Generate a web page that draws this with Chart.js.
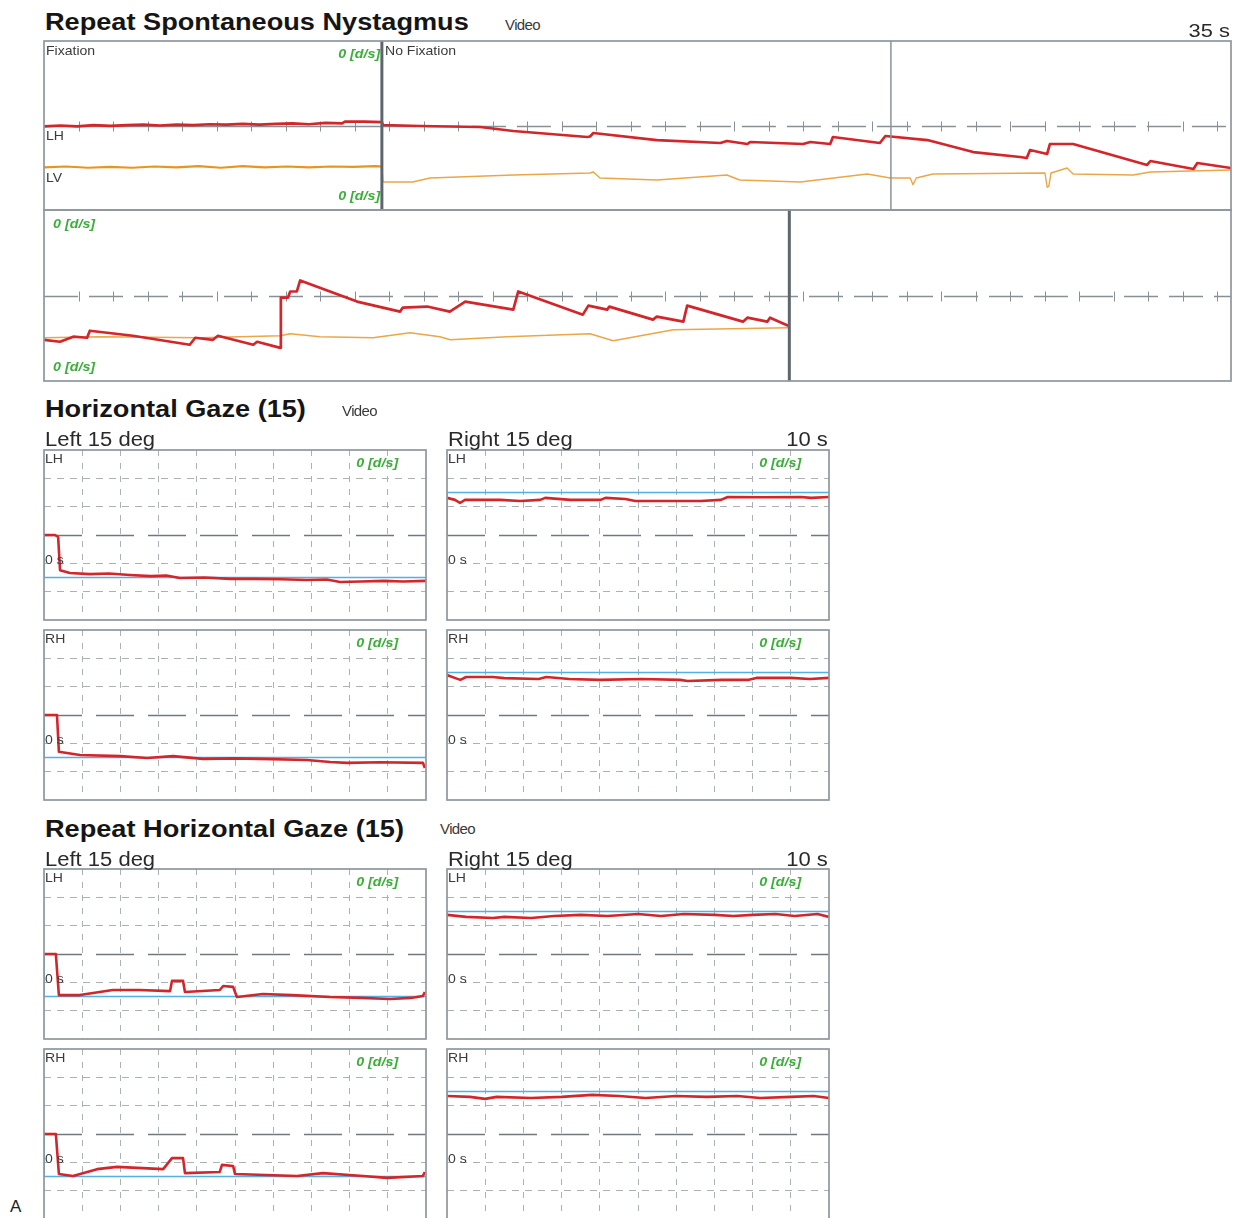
<!DOCTYPE html>
<html lang="en">
<head>
<meta charset="utf-8">
<title>Repeat Spontaneous Nystagmus / Horizontal Gaze</title>
<script src="https://cdn.jsdelivr.net/npm/chart.js@4.4.1/dist/chart.umd.min.js"></script>
<style>
  html,body{margin:0;padding:0;background:#fff;}
  body{position:relative;width:1239px;height:1218px;overflow:hidden;font-family:"Liberation Sans",Arial,Helvetica,sans-serif;color:#1d1d1d;}
  canvas{position:absolute;}
  .txt{position:absolute;white-space:nowrap;line-height:1;transform-origin:0 0;z-index:2;}
  .r{transform-origin:100% 0;}
  .ttl{font-weight:bold;font-size:23px;transform:scaleX(1.18);color:#151515;}
  .sub{font-size:20px;transform:scaleX(1.1);color:#2a2a2a;}
  .dur{font-size:19px;transform:scaleX(1.15);color:#2a2a2a;}
  .vid{font-size:15px;color:#3a3a3a;letter-spacing:-0.6px;}
  .lab{font-size:13px;transform:scaleX(1.08);color:#3b3b3b;}
  .vel{font-size:13px;font-weight:bold;font-style:italic;color:#3cae3a;transform:scaleX(1.1);}
  .big{font-size:17px;color:#222;}
</style>
</head>
<body>
<div id="plots"></div>

<div class="txt ttl" style="left:45px;top:11px">Repeat Spontaneous Nystagmus</div>
<div class="txt vid" style="left:505px;top:17px">Video</div>
<div class="txt dur r" style="right:9px;top:21px">35 s</div>
<div class="txt lab" style="left:46px;top:44px">Fixation</div>
<div class="txt lab" style="left:385px;top:44px">No Fixation</div>
<div class="txt lab" style="left:46px;top:129px">LH</div>
<div class="txt lab" style="left:46px;top:171px">LV</div>
<div class="txt vel r" style="right:859px;top:47px">0 [d/s]</div>
<div class="txt vel r" style="right:859px;top:189px">0 [d/s]</div>
<div class="txt vel" style="left:53px;top:217px">0 [d/s]</div>
<div class="txt vel" style="left:53px;top:360px">0 [d/s]</div>

<div class="txt ttl" style="left:45px;top:398px">Horizontal Gaze (15)</div>
<div class="txt vid" style="left:342px;top:403px">Video</div>
<div class="txt sub" style="left:45px;top:429px">Left 15 deg</div>
<div class="txt sub" style="left:448px;top:429px">Right 15 deg</div>
<div class="txt sub r" style="right:411px;top:429px">10 s</div>

<div class="txt ttl" style="left:45px;top:818px">Repeat Horizontal Gaze (15)</div>
<div class="txt vid" style="left:440px;top:821px">Video</div>
<div class="txt sub" style="left:45px;top:849px">Left 15 deg</div>
<div class="txt sub" style="left:448px;top:849px">Right 15 deg</div>
<div class="txt sub r" style="right:411px;top:849px">10 s</div>

<div class="txt big" style="left:10px;top:1198px">A</div>

<script>
// ---------- Spontaneous nystagmus recording: [time s, eye position deg] ----------
// first strip (0 - 21.5 s): fixation until 6.12 s, then no fixation
const fixLH = [[0,-0.1],[0.3,0.0],[0.6,-0.1],[0.9,0.05],[1.2,-0.05],[1.5,0.05],[1.8,0.1],[2.1,0.0],[2.4,0.1],[2.7,0.05],[3.0,0.15],[3.3,0.1],[3.6,0.2],[3.9,0.1],[4.2,0.2],[4.5,0.25],[4.8,0.15],[5.1,0.3],[5.4,0.25],[5.45,0.45],[5.8,0.45],[6.12,0.4]];
const fixLV = [[0,-4.95],[0.4,-4.85],[0.8,-5.0],[1.2,-4.9],[1.6,-5.0],[2.0,-4.85],[2.4,-4.95],[2.8,-4.8],[3.2,-5.0],[3.6,-4.8],[4.0,-4.95],[4.4,-4.85],[4.8,-4.95],[5.2,-4.85],[5.6,-4.9],[6.0,-4.8],[6.12,-4.85]];
const freeLH = [[6.12,0.4],[6.14,0.06],[6.81,-0.06],[7.9,-0.18],[8.5,-0.65],[9.84,-1.36],[9.89,-1.3],[9.95,-0.89],[11.1,-1.72],[12.25,-2.07],[12.37,-1.83],[12.74,-2.19],[12.79,-1.95],[13.75,-2.19],[13.88,-1.95],[14.24,-2.19],[14.29,-1.36],[15.14,-2.07],[15.24,-1.24],[16.0,-1.72],[16.83,-3.14],[17.68,-3.73],[17.8,-3.85],[17.86,-2.9],[18.17,-3.37],[18.22,-2.19],[18.64,-2.19],[19.98,-4.67],[20.04,-4.2],[20.82,-5.15],[20.89,-4.44],[21.5,-5.03]];
const freeLV = [[6.12,-4.85],[6.14,-6.69],[6.68,-6.69],[6.99,-6.21],[8.5,-5.86],[9.89,-5.62],[9.95,-5.5],[10.07,-6.21],[11.1,-6.45],[12.37,-5.86],[12.6,-6.45],[13.7,-6.69],[14.91,-5.74],[15.33,-6.21],[15.69,-6.21],[15.74,-7.0],[15.8,-6.21],[16.1,-5.74],[18.13,-5.62],[18.17,-7.3],[18.2,-7.2],[18.24,-5.62],[18.53,-5.03],[18.64,-5.74],[19.73,-5.86],[20.04,-5.5],[21.5,-5.27]];
// second strip (21.5 - 35 s), no fixation
const row2LH = [[21.5,-5.18],[21.79,-5.41],[22.03,-4.82],[22.28,-4.94],[22.33,-4.12],[23.11,-4.71],[24.14,-5.76],[24.24,-4.94],[24.56,-5.18],[24.65,-4.71],[25.29,-5.76],[25.36,-5.41],[25.78,-6.12],[25.79,-0.24],[25.92,-0.24],[25.96,0.47],[26.08,0.47],[26.14,1.76],[27.17,-0.71],[27.95,-1.88],[28.0,-1.41],[28.44,-1.29],[28.85,-1.88],[29.13,-0.71],[30.0,-1.65],[30.09,0.47],[31.26,-2.24],[31.36,-1.18],[31.7,-1.65],[31.74,-1.3],[32.53,-2.82],[32.6,-2.47],[33.08,-3.06],[33.15,-1.18],[34.16,-3.06],[34.24,-2.59],[34.6,-3.06],[34.65,-2.59],[34.98,-3.53]];
const row2LV = [[21.5,-4.94],[22.51,-4.82],[24.33,-4.94],[25.78,-4.71],[25.96,-4.47],[26.5,-4.82],[27.46,-4.94],[28.13,-4.35],[28.67,-4.82],[28.86,-5.18],[29.89,-4.82],[31.39,-4.47],[31.81,-5.29],[32.9,-4.0],[34.98,-3.76]];
const fixationEnd = 6.12;
const pageBreak = 15.34;
const recordEnd = 35.0;

// ---------- Horizontal gaze (15 deg): [time s, position deg] ----------
const leftTarget  = [[0,0],[0,-15],[10,-15]];
const rightTarget = [[0,0],[0,15],[10,15]];
const gazeLeftLH  = [[0,0],[0.29,0],[0.37,-0.7],[0.42,-12.4],[0.68,-13.4],[1.2,-13.8],[1.7,-13.6],[2.25,-14.1],[2.8,-14.5],[3.2,-14.3],[3.56,-15.2],[4.2,-15.0],[4.87,-15.5],[5.5,-15.5],[6.2,-15.6],[6.88,-15.9],[7.4,-15.7],[7.75,-16.6],[8.3,-16.4],[8.9,-16.2],[9.4,-16.4],[10,-16.2]];
const gazeRightLH = [[0,13.1],[0.21,12.4],[0.34,11.3],[0.47,12.4],[1.39,12.4],[1.92,12.0],[2.44,12.4],[2.57,13.1],[3.23,12.4],[4.02,12.4],[4.15,13.1],[4.67,12.7],[4.93,12.0],[6.12,12.0],[6.64,12.0],[7.17,12.4],[7.35,13.4],[8.3,13.3],[9.27,13.4],[9.53,13.1],[10,13.4]];
const gazeLeftRH  = [[0,0],[0.34,0],[0.39,-13],[0.94,-14.1],[2.0,-14.5],[2.7,-15.2],[3.38,-14.5],[4.16,-15.5],[5.0,-15.3],[5.65,-15.5],[6.88,-15.9],[7.49,-16.6],[7.93,-16.9],[8.8,-16.7],[9.92,-16.9],[9.97,-18.7]];
const gazeRightRH = [[0,14.1],[0.2,13.1],[0.35,12.4],[0.5,13.4],[1.2,13.4],[1.5,13.0],[2.4,12.7],[2.6,13.4],[3.2,12.7],[4.0,12.4],[5.1,12.7],[6.1,12.4],[6.3,12.0],[7.2,12.4],[7.9,12.4],[8.1,13.1],[9.0,13.1],[9.5,12.7],[10,13.1]];
// repeat
const repLeftLH  = [[0,0],[0.31,0],[0.39,-14.5],[0.94,-14.5],[1.8,-12.7],[2.5,-12.7],[3.3,-13.1],[3.35,-9.5],[3.64,-9.5],[3.69,-13.4],[4.6,-12.7],[4.69,-11.3],[4.95,-11.6],[5.05,-15.2],[5.73,-14.1],[6.5,-14.5],[7.49,-15.2],[8.3,-15.5],[9.06,-15.9],[9.6,-15.5],[9.92,-14.8],[9.97,-13.4]];
const repRightLH = [[0,13.8],[0.5,13.1],[1.2,12.7],[1.5,13.1],[2.2,12.7],[2.8,13.4],[3.5,13.8],[4.2,13.4],[5.0,14.1],[5.6,13.4],[6.2,14.1],[7.0,13.8],[7.5,13.4],[8.0,13.8],[8.6,14.1],[9.1,13.4],[9.7,14.1],[10,13.1]];
const repLeftRH  = [[0,0],[0.31,0],[0.39,-14.1],[0.76,-14.8],[1.39,-12.4],[1.91,-11.6],[3.12,-12.4],[3.35,-8.5],[3.64,-8.5],[3.69,-13.8],[4.6,-13.4],[4.66,-10.9],[4.95,-11.3],[5.0,-14.1],[6.62,-14.8],[7.3,-13.8],[8.35,-14.8],[8.98,-15.5],[9.92,-14.8],[9.97,-13.4]];
const repRightRH = [[0,13.4],[0.6,13.1],[1.0,12.4],[1.3,13.1],[2.2,12.7],[3.0,13.1],[3.8,13.8],[4.5,13.4],[5.2,12.7],[6.0,13.4],[6.8,13.1],[7.6,13.4],[8.2,12.7],[9.0,13.1],[9.6,13.4],[10,12.7]];

const RED = '#d3262b', ORANGE = '#e8951f', ORANGE_THIN = '#eba648', BLUE = '#52b1e4';
const FRAME = '#8e979e', GRID = '#aab2b8', CENTRE = '#6f787f';
const PAD = 3;

// reference line at 0 deg, divider lines and the panel frame
const framePlugin = {
  id: 'frame',
  beforeDatasetsDraw(chart, _args, o) {
    const {ctx, scales: {x, y}} = chart;
    const y0 = Math.round(y.getPixelForValue(0)) + 0.5;
    ctx.save();
    (o.refs || []).forEach(r => {
      ctx.beginPath();
      ctx.strokeStyle = r.color; ctx.lineWidth = r.width;
      ctx.setLineDash(r.dash || []);
      ctx.moveTo(x.getPixelForValue(r.from), y0);
      ctx.lineTo(x.getPixelForValue(r.to), y0);
      ctx.stroke();
    });
    if (o.tickStep) {
      ctx.setLineDash([]);
      ctx.strokeStyle = o.tickColor; ctx.lineWidth = 1;
      for (let k = 1; x.min + k * o.tickStep < x.max; k++) {
        const px = Math.round(x.getPixelForValue(x.min + k * o.tickStep)) + 0.5;
        ctx.beginPath(); ctx.moveTo(px, y0 - o.tickLen); ctx.lineTo(px, y0 + o.tickLen); ctx.stroke();
      }
    }
    ctx.restore();
  },
  afterDatasetsDraw(chart, _args, o) {
    const {ctx, chartArea: a, scales: {x}} = chart;
    ctx.save();
    (o.dividers || []).forEach(d => {
      const px = x.getPixelForValue(d.at);
      ctx.beginPath(); ctx.strokeStyle = d.color; ctx.lineWidth = d.width;
      ctx.moveTo(px, a.top); ctx.lineTo(px, a.bottom); ctx.stroke();
    });
    ctx.strokeStyle = FRAME; ctx.lineWidth = 1.7;
    ctx.strokeRect(a.left, a.top, a.right - a.left, a.bottom - a.top);
    ctx.restore();
  }
};

function trace(pairs, color, width, order) {
  return {
    data: pairs.map(([x, y]) => ({x, y})),
    borderColor: color, borderWidth: width, order,
    pointRadius: 0, tension: 0, fill: false,
    borderJoinStyle: 'round', borderCapStyle: 'butt'
  };
}

function panel(left, top, w, h, datasets, scales, frameOpts) {
  const c = document.createElement('canvas');
  c.width = w + 2 * PAD; c.height = h + 2 * PAD;
  c.style.left = (left - PAD) + 'px'; c.style.top = (top - PAD) + 'px';
  document.getElementById('plots').appendChild(c);
  return new Chart(c, {
    type: 'line',
    data: {datasets},
    options: {
      responsive: false, animation: false, events: [],
      layout: {padding: PAD},
      plugins: {legend: {display: false}, tooltip: {enabled: false}, frame: frameOpts},
      scales
    },
    plugins: [framePlugin]
  });
}

// ---- nystagmus strips ----
function stripScales(min, max) {
  return {
    x: {type: 'linear', min, max, display: false},
    y: {type: 'linear', min: -10, max: 10, display: false}
  };
}
panel(44, 41, 1187, 169, [
  trace(fixLH, RED, 2.7, 0),
  trace(freeLH, RED, 2.7, 1),
  trace(fixLV, ORANGE, 2.2, 2),
  trace(freeLV, ORANGE_THIN, 1.4, 3)
], stripScales(0, 21.5), {
  refs: [
    {from: 0, to: fixationEnd, color: '#869096', width: 1.3},
    {from: fixationEnd, to: 21.5, color: '#869096', width: 1.3, dash: [34, 11]}
  ],
  tickStep: 0.625, tickLen: 5, tickColor: '#869096',
  dividers: [
    {at: fixationEnd, color: '#5d666c', width: 3},
    {at: pageBreak, color: '#8a9399', width: 1.5}
  ]
});
panel(44, 210, 1187, 171, [
  trace(row2LH, RED, 2.7, 0),
  trace(row2LV, ORANGE_THIN, 1.5, 1)
], stripScales(21.5, 43), {
  refs: [{from: 21.5, to: 43, color: '#869096', width: 1.3, dash: [34, 11]}],
  tickStep: 0.625, tickLen: 5, tickColor: '#869096',
  dividers: [{at: recordEnd, color: '#5d666c', width: 3}]
});

// ---- gaze panels ----
const gazeScales = {
  x: {
    type: 'linear', min: 0, max: 10,
    ticks: {display: false, stepSize: 1},
    grid: {drawTicks: false, lineWidth: 1, color: c => (c.tick.value <= 0 || c.tick.value >= 10) ? 'rgba(0,0,0,0)' : GRID},
    border: {display: false, dash: [6, 7]}
  },
  y: {
    type: 'linear', min: -30, max: 30,
    ticks: {display: false, stepSize: 10},
    grid: {drawTicks: false, lineWidth: 1, color: c => (c.tick.value === 0 || Math.abs(c.tick.value) >= 30) ? 'rgba(0,0,0,0)' : GRID},
    border: {display: false, dash: [7, 6]}
  }
};
const gazeFrame = {refs: [{from: 0, to: 10, color: CENTRE, width: 1.7, dash: [38, 14]}]};

const gazePanels = [
  {left: 44,  top: 450,  eye: 'LH', eyeData: gazeLeftLH,  target: leftTarget},
  {left: 447, top: 450,  eye: 'LH', eyeData: gazeRightLH, target: rightTarget},
  {left: 44,  top: 630,  eye: 'RH', eyeData: gazeLeftRH,  target: leftTarget},
  {left: 447, top: 630,  eye: 'RH', eyeData: gazeRightRH, target: rightTarget},
  {left: 44,  top: 869,  eye: 'LH', eyeData: repLeftLH,   target: leftTarget},
  {left: 447, top: 869,  eye: 'LH', eyeData: repRightLH,  target: rightTarget},
  {left: 44,  top: 1049, eye: 'RH', eyeData: repLeftRH,   target: leftTarget},
  {left: 447, top: 1049, eye: 'RH', eyeData: repRightRH,  target: rightTarget}
];

function label(text, cls, style) {
  const d = document.createElement('div');
  d.className = 'txt ' + cls;
  d.textContent = text;
  Object.assign(d.style, style);
  document.body.appendChild(d);
}

gazePanels.forEach(p => {
  panel(p.left, p.top, 382, 170, [
    trace(p.eyeData, RED, 2.6, 0),
    trace(p.target, BLUE, 1.6, 1)
  ], gazeScales, gazeFrame);
  label(p.eye, 'lab', {left: (p.left + 1) + 'px', top: (p.top + 2) + 'px'});
  label('0 [d/s]', 'vel r', {right: (1239 - (p.left + 354)) + 'px', top: (p.top + 6) + 'px'});
  label('0 s', 'lab', {left: (p.left + 1) + 'px', top: (p.top + 103) + 'px'});
});
</script>
</body>
</html>
